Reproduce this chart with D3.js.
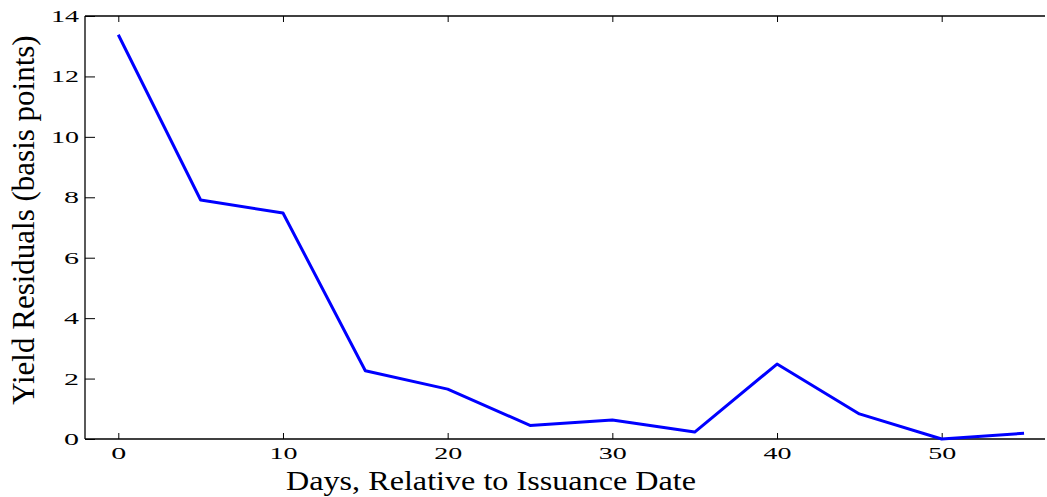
<!DOCTYPE html>
<html>
<head>
<meta charset="utf-8">
<script src="https://cdn.jsdelivr.net/npm/d3@7"></script>
<style>
  html, body { margin: 0; padding: 0; background: #fff; }
  svg { display: block; }
  text { font-family: "Liberation Serif", "Times New Roman", serif; fill: #000; }
</style>
</head>
<body>
<svg id="chart" width="1047" height="497"></svg>
<script>
// Days relative to issuance and the average yield residual on each day
const days = [0, 5, 10, 15, 20, 25, 30, 35, 40, 45, 50, 55];
const residuals = [13.38, 7.91, 7.48, 2.26, 1.65, 0.45, 0.63, 0.23, 2.48, 0.83, 0.0, 0.19];
const xTicks = [0, 10, 20, 30, 40, 50];
const yTicks = [0, 2, 4, 6, 8, 10, 12, 14];

const svg = d3.select("#chart");
const plotLeft = 85, plotRight = 1045, plotTop = 16, plotBottom = 439;

// day 0 and day 50 sit on their ticks; the axis runs on past day 55
const x = d3.scaleLinear().domain([0, 50]).range([118.3, 941.7]);
const y = d3.scaleLinear().domain([0, 14]).range([plotBottom, plotTop]);

// wide tick numerals
function widen(sel) {
  sel.attr("font-size", 17)
    .attr("lengthAdjust", "spacingAndGlyphs")
    .attr("textLength", function () { return this.textContent.length === 1 ? 15 : 28; });
}

// frame: left, bottom and top lines
const frame = svg.append("g").attr("stroke", "#000").attr("stroke-width", 1.3);
frame.append("line").attr("x1", plotLeft).attr("x2", plotLeft).attr("y1", plotTop).attr("y2", plotBottom);
frame.append("line").attr("x1", plotLeft).attr("x2", plotRight).attr("y1", plotBottom).attr("y2", plotBottom);
frame.append("line").attr("x1", plotLeft).attr("x2", plotRight).attr("y1", plotTop).attr("y2", plotTop);

// bottom axis with inward ticks
const xAxis = svg.append("g").attr("transform", `translate(0,${plotBottom})`)
  .call(d3.axisBottom(x).tickValues(xTicks).tickSize(-6).tickFormat(d3.format("d")));
xAxis.select(".domain").remove();
xAxis.selectAll("line").attr("stroke", "#000");
xAxis.selectAll("text").attr("y", 19.5).attr("dy", null).call(widen);

// mirrored ticks on the top edge
const xTop = svg.append("g").attr("transform", `translate(0,${plotTop})`)
  .call(d3.axisTop(x).tickValues(xTicks).tickSize(-6).tickFormat(""));
xTop.select(".domain").remove();
xTop.selectAll("line").attr("stroke", "#000");

// left axis with inward ticks
const yAxis = svg.append("g").attr("transform", `translate(${plotLeft},0)`)
  .call(d3.axisLeft(y).tickValues(yTicks).tickSize(-10).tickFormat(d3.format("d")));
yAxis.select(".domain").remove();
yAxis.selectAll("line").attr("stroke", "#000");
yAxis.selectAll("text").attr("x", -6).call(widen);

// residual series
svg.append("path")
  .datum(days.map((d, i) => [d, residuals[i]]))
  .attr("fill", "none")
  .attr("stroke", "#0000ff")
  .attr("stroke-width", 3)
  .attr("stroke-linejoin", "round")
  .attr("d", d3.line().x(d => x(d[0])).y(d => y(d[1])));

// axis titles
svg.append("text")
  .attr("x", 491).attr("y", 490)
  .attr("text-anchor", "middle")
  .attr("font-size", 28)
  .attr("lengthAdjust", "spacingAndGlyphs")
  .attr("textLength", 410)
  .text("Days, Relative to Issuance Date");

svg.append("text")
  .attr("transform", "translate(33.5,220) rotate(-90)")
  .attr("text-anchor", "middle")
  .attr("font-size", 31)
  .text("Yield Residuals (basis points)");
</script>
</body>
</html>
